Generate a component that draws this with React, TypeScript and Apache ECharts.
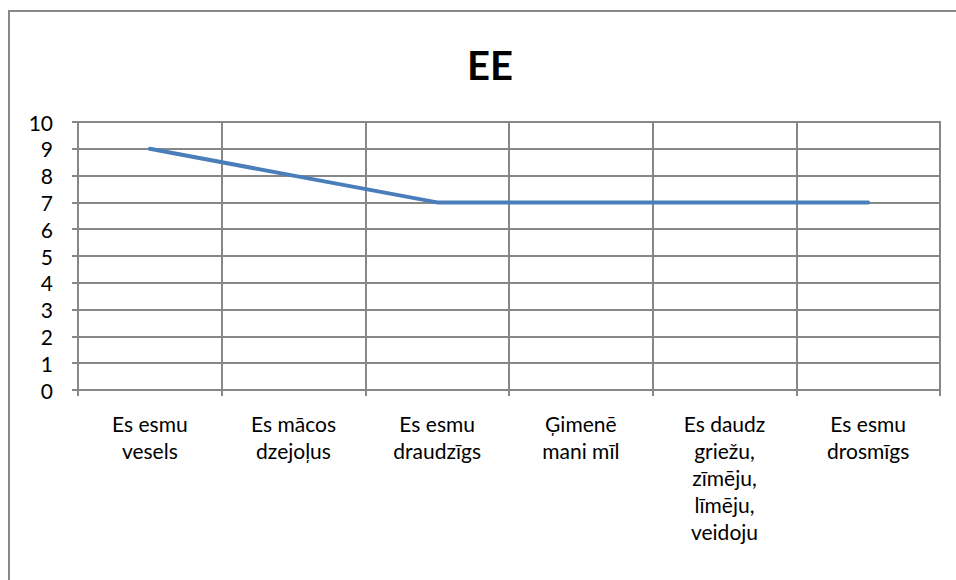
import React, { useEffect, useRef } from "react";
import * as echarts from "echarts";

const title = "EE";
const categories = [
  "Es esmu\nvesels",
  "Es mācos\ndzejoļus",
  "Es esmu\ndraudzīgs",
  "Ģimenē\nmani mīl",
  "Es daudz\ngriežu,\nzīmēju,\nlīmēju,\nveidoju",
  "Es esmu\ndrosmīgs",
];
const values = [9, 8, 7, 7, 7, 7];
const yMin = 0;
const yMax = 10;
const yInterval = 1;

const FONT = "Lato";
const GRID = "#878787";

export default function App() {
  const ref = useRef<HTMLDivElement>(null);
  useEffect(() => {
    if (!ref.current) return;
    const chart = echarts.init(ref.current, null, { renderer: "svg" });
    chart.setOption({
      animation: false,
      backgroundColor: "#ffffff",
      title: {
        text: title,
        left: 485,
        top: 40,
        textAlign: "center",
        textStyle: { fontFamily: FONT, fontSize: 40, fontWeight: "bold", color: "#000" },
      },
      graphic: [
        {
          type: "rect",
          shape: { x: 9, y: 11, width: 1000, height: 620 },
          style: { fill: "none", stroke: GRID, lineWidth: 2 },
          silent: true,
        },
      ],
      grid: {
        left: 78,
        top: 122,
        right: 16,
        bottom: 190,
        show: true,
        borderColor: GRID,
        borderWidth: 2,
        backgroundColor: "transparent",
      },
      xAxis: {
        type: "category",
        data: categories,
        boundaryGap: true,
        axisLine: { show: true, lineStyle: { color: GRID, width: 2 } },
        axisTick: { show: true, length: 6, alignWithLabel: false, lineStyle: { color: GRID, width: 2 } },
        splitLine: { show: true, lineStyle: { color: GRID, width: 2 } },
        axisLabel: {
          interval: 0,
          margin: 20,
          fontFamily: FONT,
          fontSize: 21,
          lineHeight: 27,
          color: "#000",
          align: "center",
        },
      },
      yAxis: {
        type: "value",
        min: yMin,
        max: yMax,
        interval: yInterval,
        axisLine: { show: true, lineStyle: { color: GRID, width: 2 } },
        axisTick: { show: true, length: 6, lineStyle: { color: GRID, width: 2 } },
        splitLine: { show: true, lineStyle: { color: GRID, width: 2 } },
        axisLabel: { margin: 25, fontFamily: FONT, fontSize: 21, color: "#000" },
      },
      series: [
        {
          type: "line",
          data: values,
          symbol: "none",
          lineStyle: { color: "#4a7ebb", width: 4, cap: "round" },
        },
      ],
    });
    return () => chart.dispose();
  }, []);
  return (
    <div
      ref={ref}
      style={{ position: "fixed", left: 0, top: 0, width: 956, height: 580 }}
    />
  );
}
